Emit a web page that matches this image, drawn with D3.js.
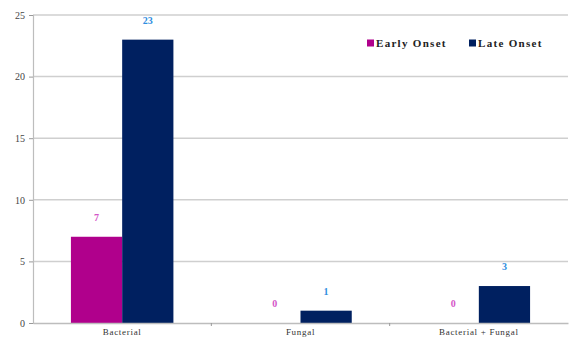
<!DOCTYPE html>
<html><head><meta charset="utf-8">
<script src="https://cdn.jsdelivr.net/npm/d3@7"></script>
<style>body{margin:0;background:#fff}svg{display:block}</style>
</head><body>
<svg id="c" width="575" height="342"></svg>
<script>
const categories = ["Bacterial", "Fungal", "Bacterial + Fungal"];
const seriesNames = ["Early Onset", "Late Onset"];
const earlyOnset = [7, 0, 0];
const lateOnset = [23, 1, 3];
const yTicks = [0, 5, 10, 15, 20, 25];

const barColors = ["#b0008c", "#002060"];
const labelColors = ["#d455c8", "#2f8ee0"];

const svg = d3.select("#c");
const m = {left: 33, right: 7, top: 15, bottom: 19};
const W = 575, H = 342;
const x0 = d3.scaleBand().domain(categories).range([m.left, W - m.right]).paddingInner(0).paddingOuter(0);
const x1 = d3.scaleBand().domain(seriesNames).range([0, x0.bandwidth()]).paddingInner(0).paddingOuter(0.74);
const y = d3.scaleLinear().domain([0, 25]).range([H - m.bottom, m.top]);

// gridlines
svg.append("g").selectAll("line").data(yTicks.filter(d => d > 0)).join("line")
  .attr("x1", m.left).attr("x2", W - m.right)
  .attr("y1", d => y(d)).attr("y2", d => y(d))
  .attr("stroke", "#cfcfcf").attr("stroke-width", 1.5);

const data = categories.map((c, i) => ({cat: c, vals: [earlyOnset[i], lateOnset[i]]}));
const g = svg.append("g").selectAll("g").data(data).join("g")
  .attr("transform", d => `translate(${x0(d.cat)},0)`);
g.selectAll("rect").data(d => d.vals.map((v, j) => ({v, j})).filter(e => e.v > 0)).join("rect")
  .attr("x", e => x1(seriesNames[e.j])).attr("width", x1.bandwidth())
  .attr("y", e => y(e.v)).attr("height", e => y(0) - y(e.v))
  .attr("fill", e => barColors[e.j]);
g.selectAll("text").data(d => d.vals.map((v, j) => ({v, j}))).join("text")
  .attr("x", e => x1(seriesNames[e.j]) + x1.bandwidth() / 2)
  .attr("y", e => y(e.v) - 16)
  .attr("text-anchor", "middle")
  .attr("font-family", "Liberation Serif, serif").attr("font-weight", "bold").attr("font-size", 10)
  .attr("fill", e => labelColors[e.j]).text(e => e.v);

// x axis
const xAxis = d3.axisBottom(x0).tickSize(0).tickPadding(6);
const xa = svg.append("g").attr("transform", `translate(0,${y(0)})`).call(xAxis);
xa.select(".domain").attr("stroke", "#bdbdbd").attr("stroke-width", 1.5);
xa.selectAll("text").attr("font-family", "Liberation Serif, serif").attr("font-size", 9)
  .attr("letter-spacing", 0.7).attr("fill", "#333");
svg.append("g").selectAll("line").data(categories.slice(1)).join("line")
  .attr("x1", d => x0(d)).attr("x2", d => x0(d))
  .attr("y1", y(0)).attr("y2", y(0) + 3).attr("stroke", "#999");

// y axis
const yAxis = d3.axisLeft(y).tickValues(yTicks).tickSize(4).tickPadding(4);
const ya = svg.append("g").attr("transform", `translate(${m.left},0)`).call(yAxis);
ya.select(".domain").attr("stroke", "#bdbdbd").attr("stroke-width", 1.2);
ya.selectAll(".tick line").attr("stroke", "#999");
ya.selectAll("text").attr("font-family", "Liberation Serif, serif").attr("font-size", 10).attr("fill", "#444");

// legend
const legX = [367, 469];
const lg = svg.append("g").selectAll("g").data(seriesNames).join("g")
  .attr("transform", (d, i) => `translate(${legX[i]},43)`);
lg.append("rect").attr("x", 0).attr("y", -3.5).attr("width", 7).attr("height", 7).attr("fill", (d, i) => barColors[i]);
lg.append("text").attr("x", 9).attr("y", 3.5)
  .attr("font-family", "Liberation Serif, serif").attr("font-weight", "bold").attr("font-size", 11)
  .attr("letter-spacing", 1.3).attr("fill", "#222").text(d => d);
</script>
</body></html>
